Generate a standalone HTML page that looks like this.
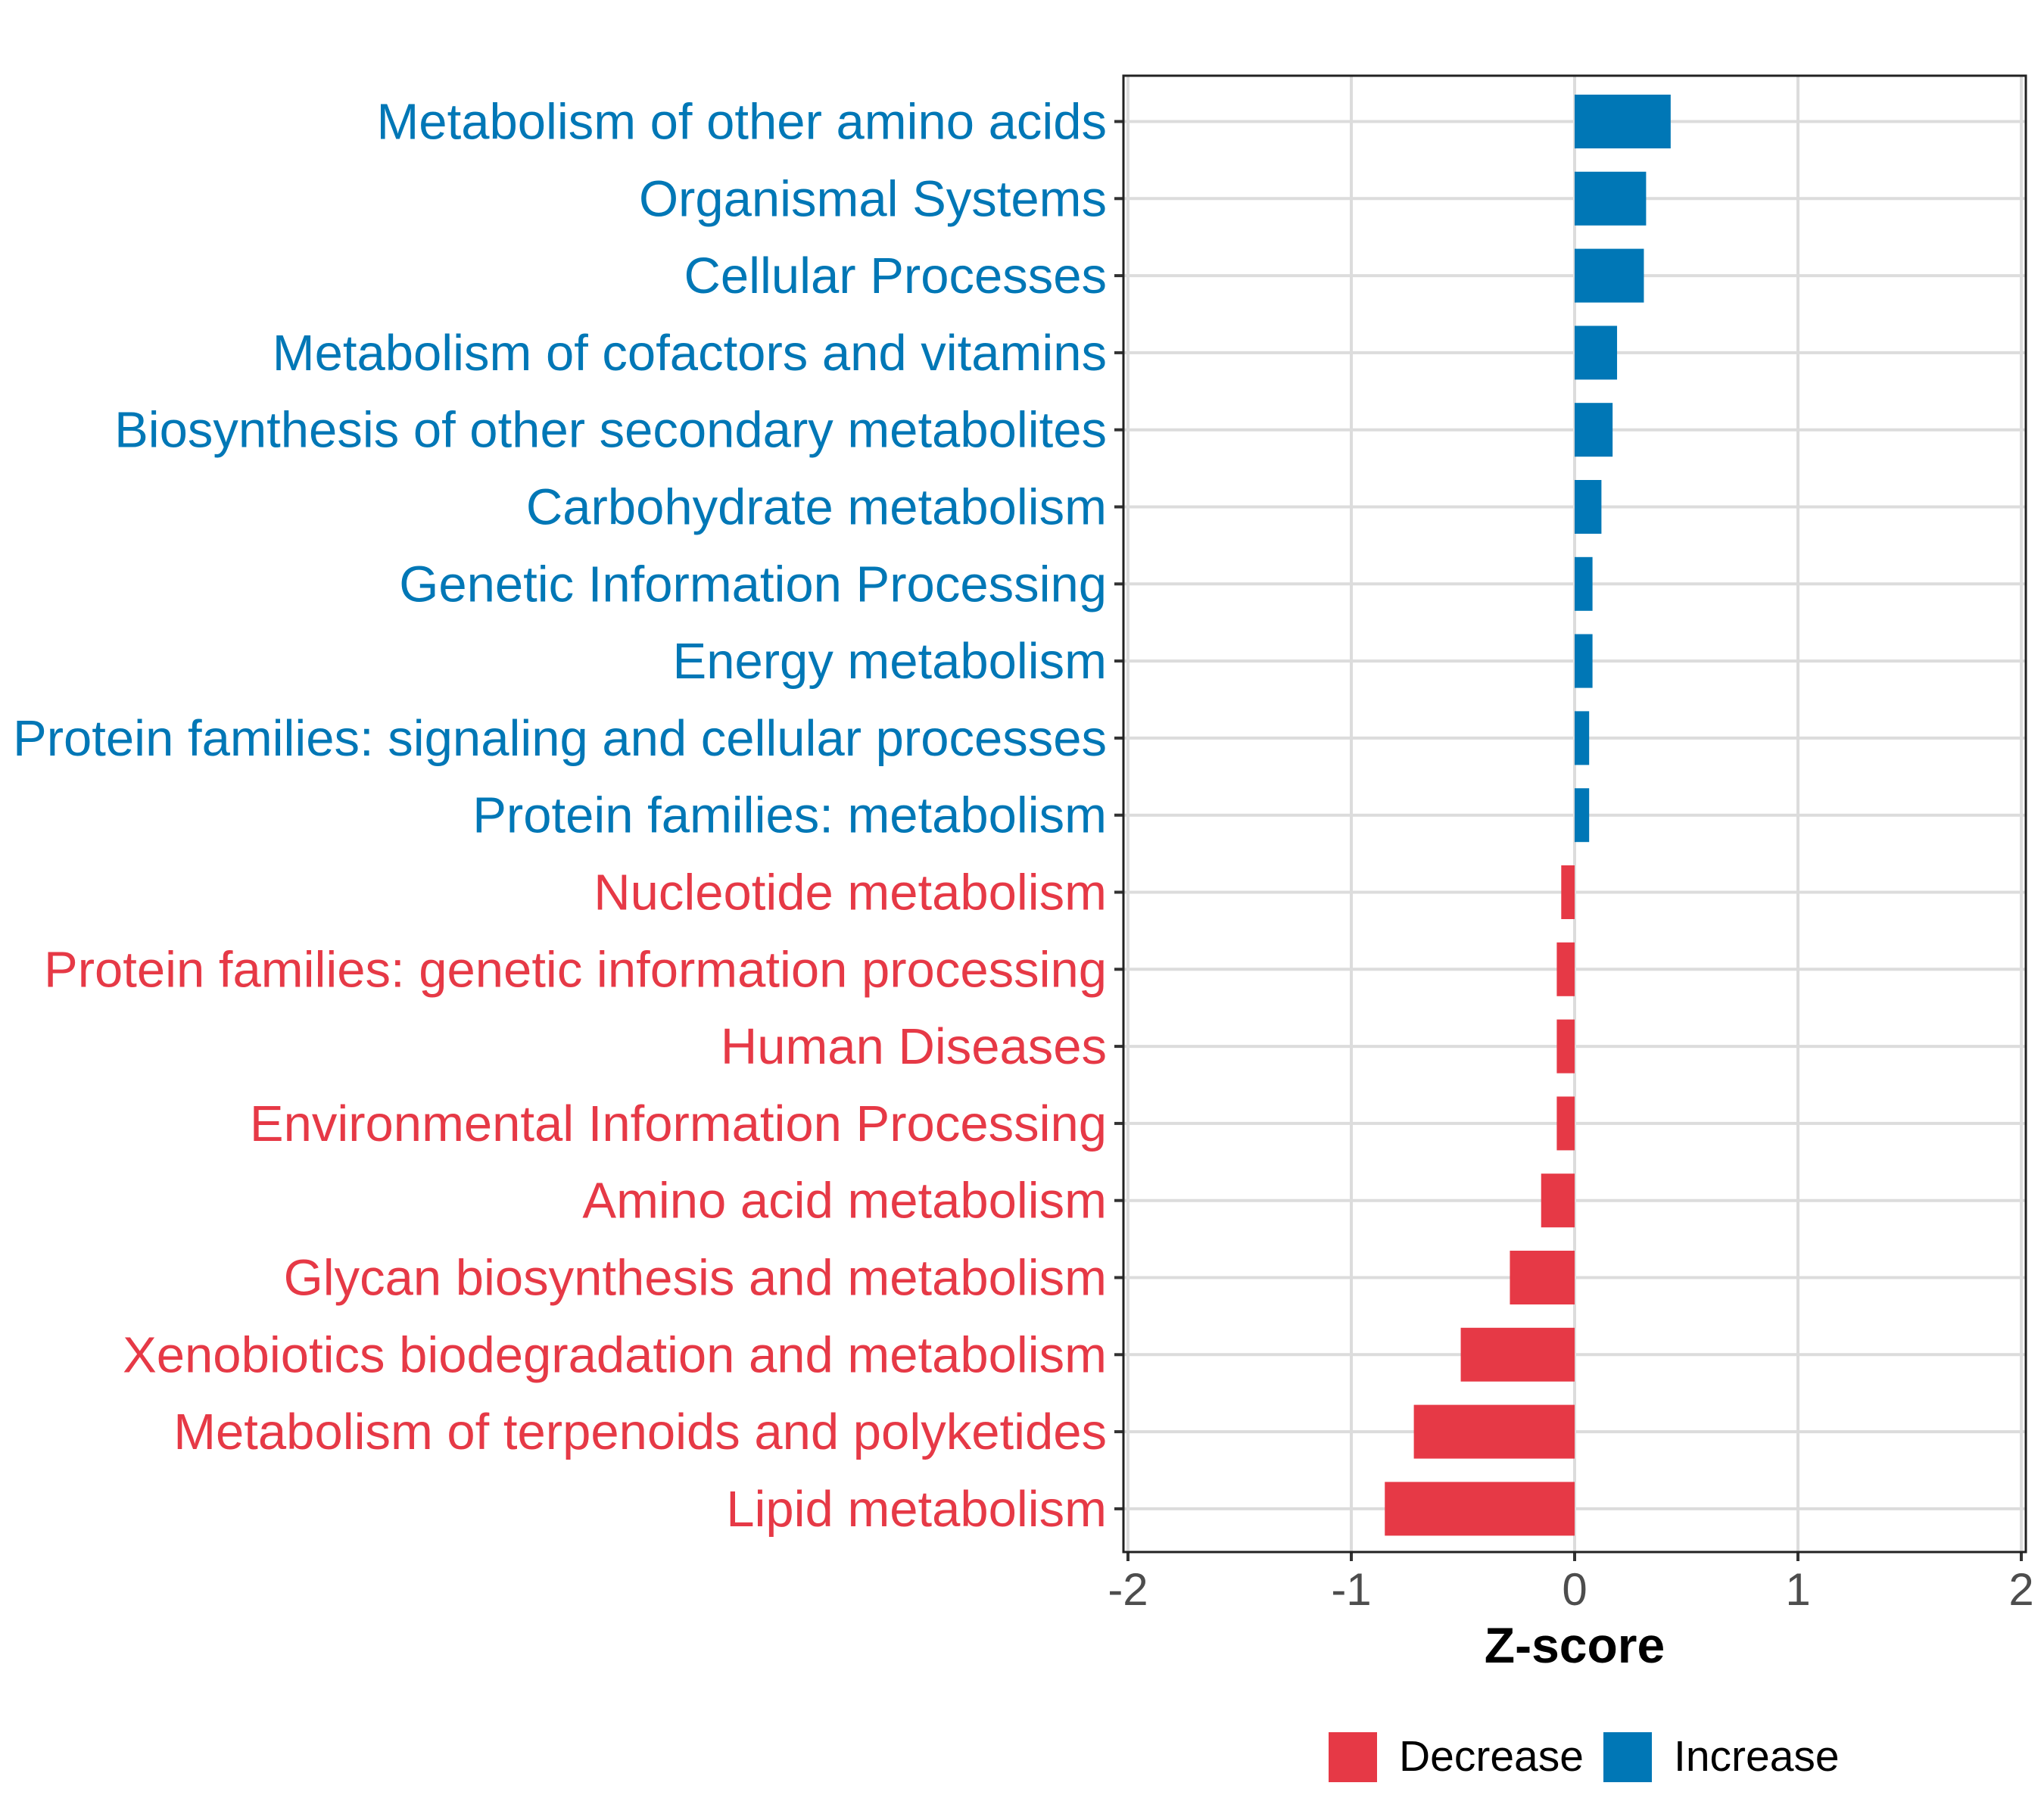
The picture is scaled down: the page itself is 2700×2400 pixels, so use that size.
<!DOCTYPE html>
<html><head><meta charset="utf-8"><style>
html,body{margin:0;padding:0;background:#fff;}
svg{display:block;font-family:"Liberation Sans",Arial,sans-serif;}
</style></head><body>
<svg id="chart" width="2700" height="2400" viewBox="0 0 2700 2400">
<g id="grid"></g>
<g id="bars"></g>
<g id="ylabels"></g>
<g id="xaxis"></g>
<text x="2080" y="2196" text-anchor="middle" font-size="66" font-weight="bold" fill="#000">Z-score</text>
<g>
<rect x="1755" y="2288" width="64" height="66" fill="#E63946"></rect>
<text x="1848" y="2339" font-size="57" fill="#000">Decrease</text>
<rect x="2118" y="2288" width="64" height="66" fill="#0077B6"></rect>
<text x="2211" y="2339" font-size="57" fill="#000">Increase</text>
</g>
</svg>
<script>
const categories = ["Metabolism of other amino acids","Organismal Systems","Cellular Processes","Metabolism of cofactors and vitamins","Biosynthesis of other secondary metabolites","Carbohydrate metabolism","Genetic Information Processing","Energy metabolism","Protein families: signaling and cellular processes","Protein families: metabolism","Nucleotide metabolism","Protein families: genetic information processing","Human Diseases","Environmental Information Processing","Amino acid metabolism","Glycan biosynthesis and metabolism","Xenobiotics biodegradation and metabolism","Metabolism of terpenoids and polyketides","Lipid metabolism"];
const zscores = [0.43,0.32,0.31,0.19,0.17,0.12,0.08,0.08,0.065,0.065,-0.06,-0.08,-0.08,-0.08,-0.15,-0.29,-0.51,-0.72,-0.85];
const xTicks = [-2,-1,0,1,2];
const xTickLabels = ["-2","-1","0","1","2"];

const NS="http://www.w3.org/2000/svg";
const L=1484,R=2676,T=100,B=2050;
const x0=2080,unit=295;
function xs(v){return x0+v*unit;}
const step=101.8, y1=160.5;
function ys(i){return y1+i*step;}
function mk(tag,attrs,parent){const e=document.createElementNS(NS,tag);for(const k in attrs)e.setAttribute(k,attrs[k]);parent.appendChild(e);return e;}
const grid=document.getElementById('grid'),bars=document.getElementById('bars'),yl=document.getElementById('ylabels'),xa=document.getElementById('xaxis');
const BLUE="#0077B6",RED="#E63946";
xTicks.forEach((t,i)=>{
  const g=mk('line',{x1:xs(t),x2:xs(t),y1:T,y2:B,stroke:"#dcdcdc","stroke-width":4},grid);
  
  
  const tk=mk('line',{x1:xs(t),x2:xs(t),y1:B,y2:B+12,stroke:"#333","stroke-width":4},xa);
  
  
  const tl=mk('text',{x:xs(t),y:B+70,"text-anchor":"middle","font-size":60,fill:"#4d4d4d"},xa);
  tl.textContent=xTickLabels[i];
  
  
});
categories.forEach((c,i)=>{
  const y=ys(i);
  const gl=mk('line',{x1:L,x2:R,y1:y,y2:y,stroke:"#dcdcdc","stroke-width":4},grid);
  
  
  const v=zscores[i];
  const col=v>=0?BLUE:RED;
  const b=mk('rect',{x:Math.min(xs(0),xs(v)),y:y-35.5,width:Math.abs(xs(v)-xs(0)),height:71,fill:col},bars);
  
  
  const tk=mk('line',{x1:L-12,x2:L,y1:y,y2:y,stroke:"#333","stroke-width":4},yl);
  
  
  const t=mk('text',{x:L-22,y:y+23,"text-anchor":"end","font-size":67,fill:col},yl);
  t.textContent=c;
  
  
});
const frame=mk('rect',{x:L,y:T,width:R-L,height:B-T,fill:"none",stroke:"#222","stroke-width":3},document.getElementById('chart'));


</script>
</body></html>
